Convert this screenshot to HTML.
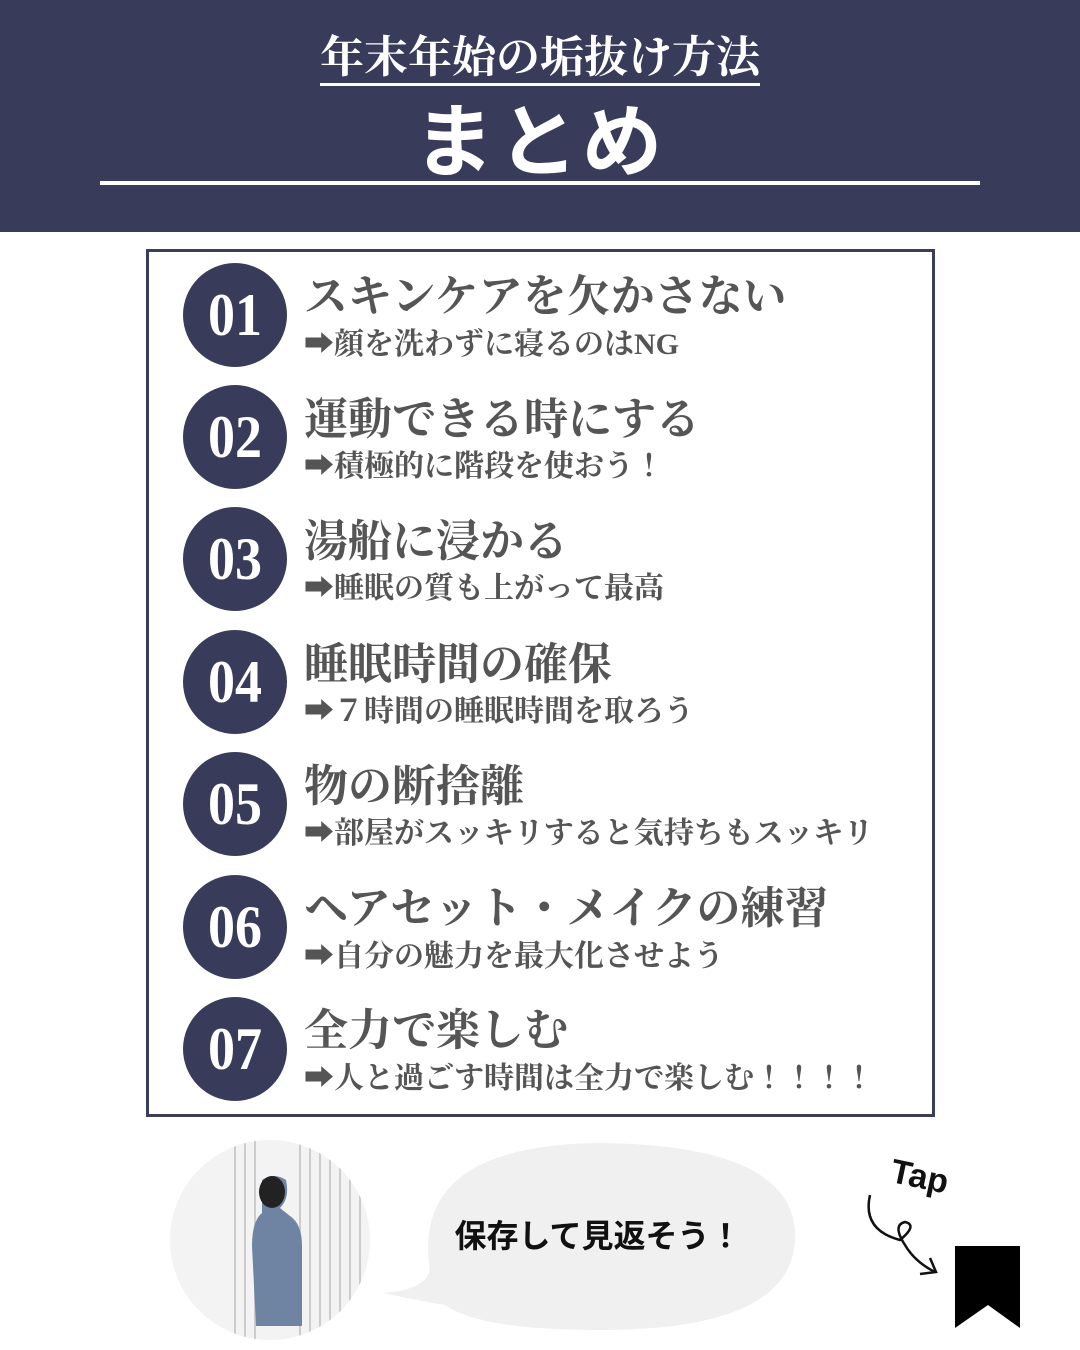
<!DOCTYPE html>
<html><head><meta charset="utf-8"><style>
*{margin:0;padding:0;box-sizing:border-box}
body{width:1080px;height:1350px;background:#fff;position:relative;overflow:hidden;font-family:"Liberation Serif","Noto Serif CJK JP",serif}
.hdr{position:absolute;left:0;top:0;width:1080px;height:232px;background:#383b5a}
.t1{position:absolute;left:0;width:1080px;top:30px;text-align:center;color:#fff;font-size:44px;font-weight:bold;line-height:56px}
.t1 span{border-bottom:3px solid #fff;display:inline-block;line-height:50px}
.t2{position:absolute;left:0;width:1080px;top:88px;text-align:center;color:#fff;font-size:80px;font-weight:bold;line-height:96px;font-family:"Noto Sans CJK JP",sans-serif;letter-spacing:4px}
.ln{position:absolute;left:100px;top:181px;width:880px;height:4px;background:#fff}
.box{position:absolute;left:146px;top:249px;width:789px;height:868px;border:3px solid #3a3d5c}
.c{position:absolute;left:183px;width:104px;height:104px;border-radius:50%;background:#383b5a;color:#fff;font-size:60px;font-weight:bold;text-align:center;line-height:104px;font-family:"Liberation Serif",serif}
.c span{display:inline-block;transform:scaleX(0.9)}
.tt{position:absolute;left:304px;color:#555;font-size:44px;font-weight:bold;line-height:50px;white-space:nowrap}
.st{position:absolute;left:304px;color:#555;font-size:30px;font-weight:bold;line-height:34px;white-space:nowrap}
</style></head><body>
<div class="hdr"></div>
<div class="t1"><span>年末年始の垢抜け方法</span></div>
<div class="t2">まとめ</div>
<div class="ln"></div>
<div class="box"></div>

<div class="c" style="top:263px"><span>01</span></div>
<div class="tt" style="top:272px">スキンケアを欠かさない</div>
<div class="st" style="top:328px">➡顔を洗わずに寝るのはNG</div>

<div class="c" style="top:385px"><span>02</span></div>
<div class="tt" style="top:395px">運動できる時にする</div>
<div class="st" style="top:450px">➡積極的に階段を使おう！</div>

<div class="c" style="top:507px"><span>03</span></div>
<div class="tt" style="top:517px">湯船に浸かる</div>
<div class="st" style="top:572px">➡睡眠の質も上がって最高</div>

<div class="c" style="top:630px"><span>04</span></div>
<div class="tt" style="top:640px">睡眠時間の確保</div>
<div class="st" style="top:695px">➡７時間の睡眠時間を取ろう</div>

<div class="c" style="top:752px"><span>05</span></div>
<div class="tt" style="top:762px">物の断捨離</div>
<div class="st" style="top:817px">➡部屋がスッキリすると気持ちもスッキリ</div>

<div class="c" style="top:875px"><span>06</span></div>
<div class="tt" style="top:884px">ヘアセット・メイクの練習</div>
<div class="st" style="top:940px">➡自分の魅力を最大化させよう</div>

<div class="c" style="top:997px"><span>07</span></div>
<div class="tt" style="top:1006px">全力で楽しむ</div>
<div class="st" style="top:1062px">➡人と過ごす時間は全力で楽しむ！！！！</div>

<svg style="position:absolute;left:0;top:0" width="1080" height="1350">
<defs><clipPath id="cp"><ellipse cx="270" cy="1240" rx="100" ry="100"/></clipPath></defs>
<g clip-path="url(#cp)">
<rect x="170" y="1140" width="200" height="200" fill="#f3f3f3"/>
<g stroke="#ccc" stroke-width="2">
<line x1="235" y1="1140" x2="235" y2="1340"/><line x1="300" y1="1140" x2="300" y2="1340"/><line x1="310" y1="1140" x2="310" y2="1340"/><line x1="320" y1="1140" x2="320" y2="1340"/><line x1="330" y1="1140" x2="330" y2="1340"/><line x1="340" y1="1140" x2="340" y2="1340"/><line x1="350" y1="1140" x2="350" y2="1340"/><line x1="360" y1="1140" x2="360" y2="1340"/>
<line x1="245" y1="1140" x2="245" y2="1340"/><line x1="255" y1="1140" x2="255" y2="1340"/>
</g>
<path d="M262 1180 q12 -8 24 0 q4 18 -6 28 l10 8 q12 8 12 30 l0 80 l-46 0 l-4 -80 q0 -25 10 -33 z" fill="#6f84a3"/>
<ellipse cx="272" cy="1192" rx="13" ry="16" fill="#222"/>
</g>
<path d="M430 1270 Q410 1145 600 1143 Q795 1145 795 1236 Q795 1330 600 1330 Q480 1330 445 1305 Q415 1300 383 1293 Q425 1290 430 1270 Z" fill="#f0f0f0"/>
<text x="598" y="1247" text-anchor="middle" font-family="Noto Sans CJK JP,sans-serif" font-weight="bold" font-size="32" fill="#111">保存して見返そう！</text>
<text x="890" y="1188" font-family="Liberation Sans,sans-serif" font-weight="bold" font-size="34" fill="#111" transform="rotate(12 920 1180)">Tap</text>
<path d="M870 1195 Q862 1230 900 1240 Q918 1225 905 1222 Q892 1225 905 1245 Q915 1262 935 1272 M920 1274 L936 1272 L930 1258" fill="none" stroke="#111" stroke-width="2.5"/>
<path d="M955 1246 L1020 1246 L1020 1328 L988 1305 L955 1328 Z" fill="#000"/>
</svg>
</body></html>
